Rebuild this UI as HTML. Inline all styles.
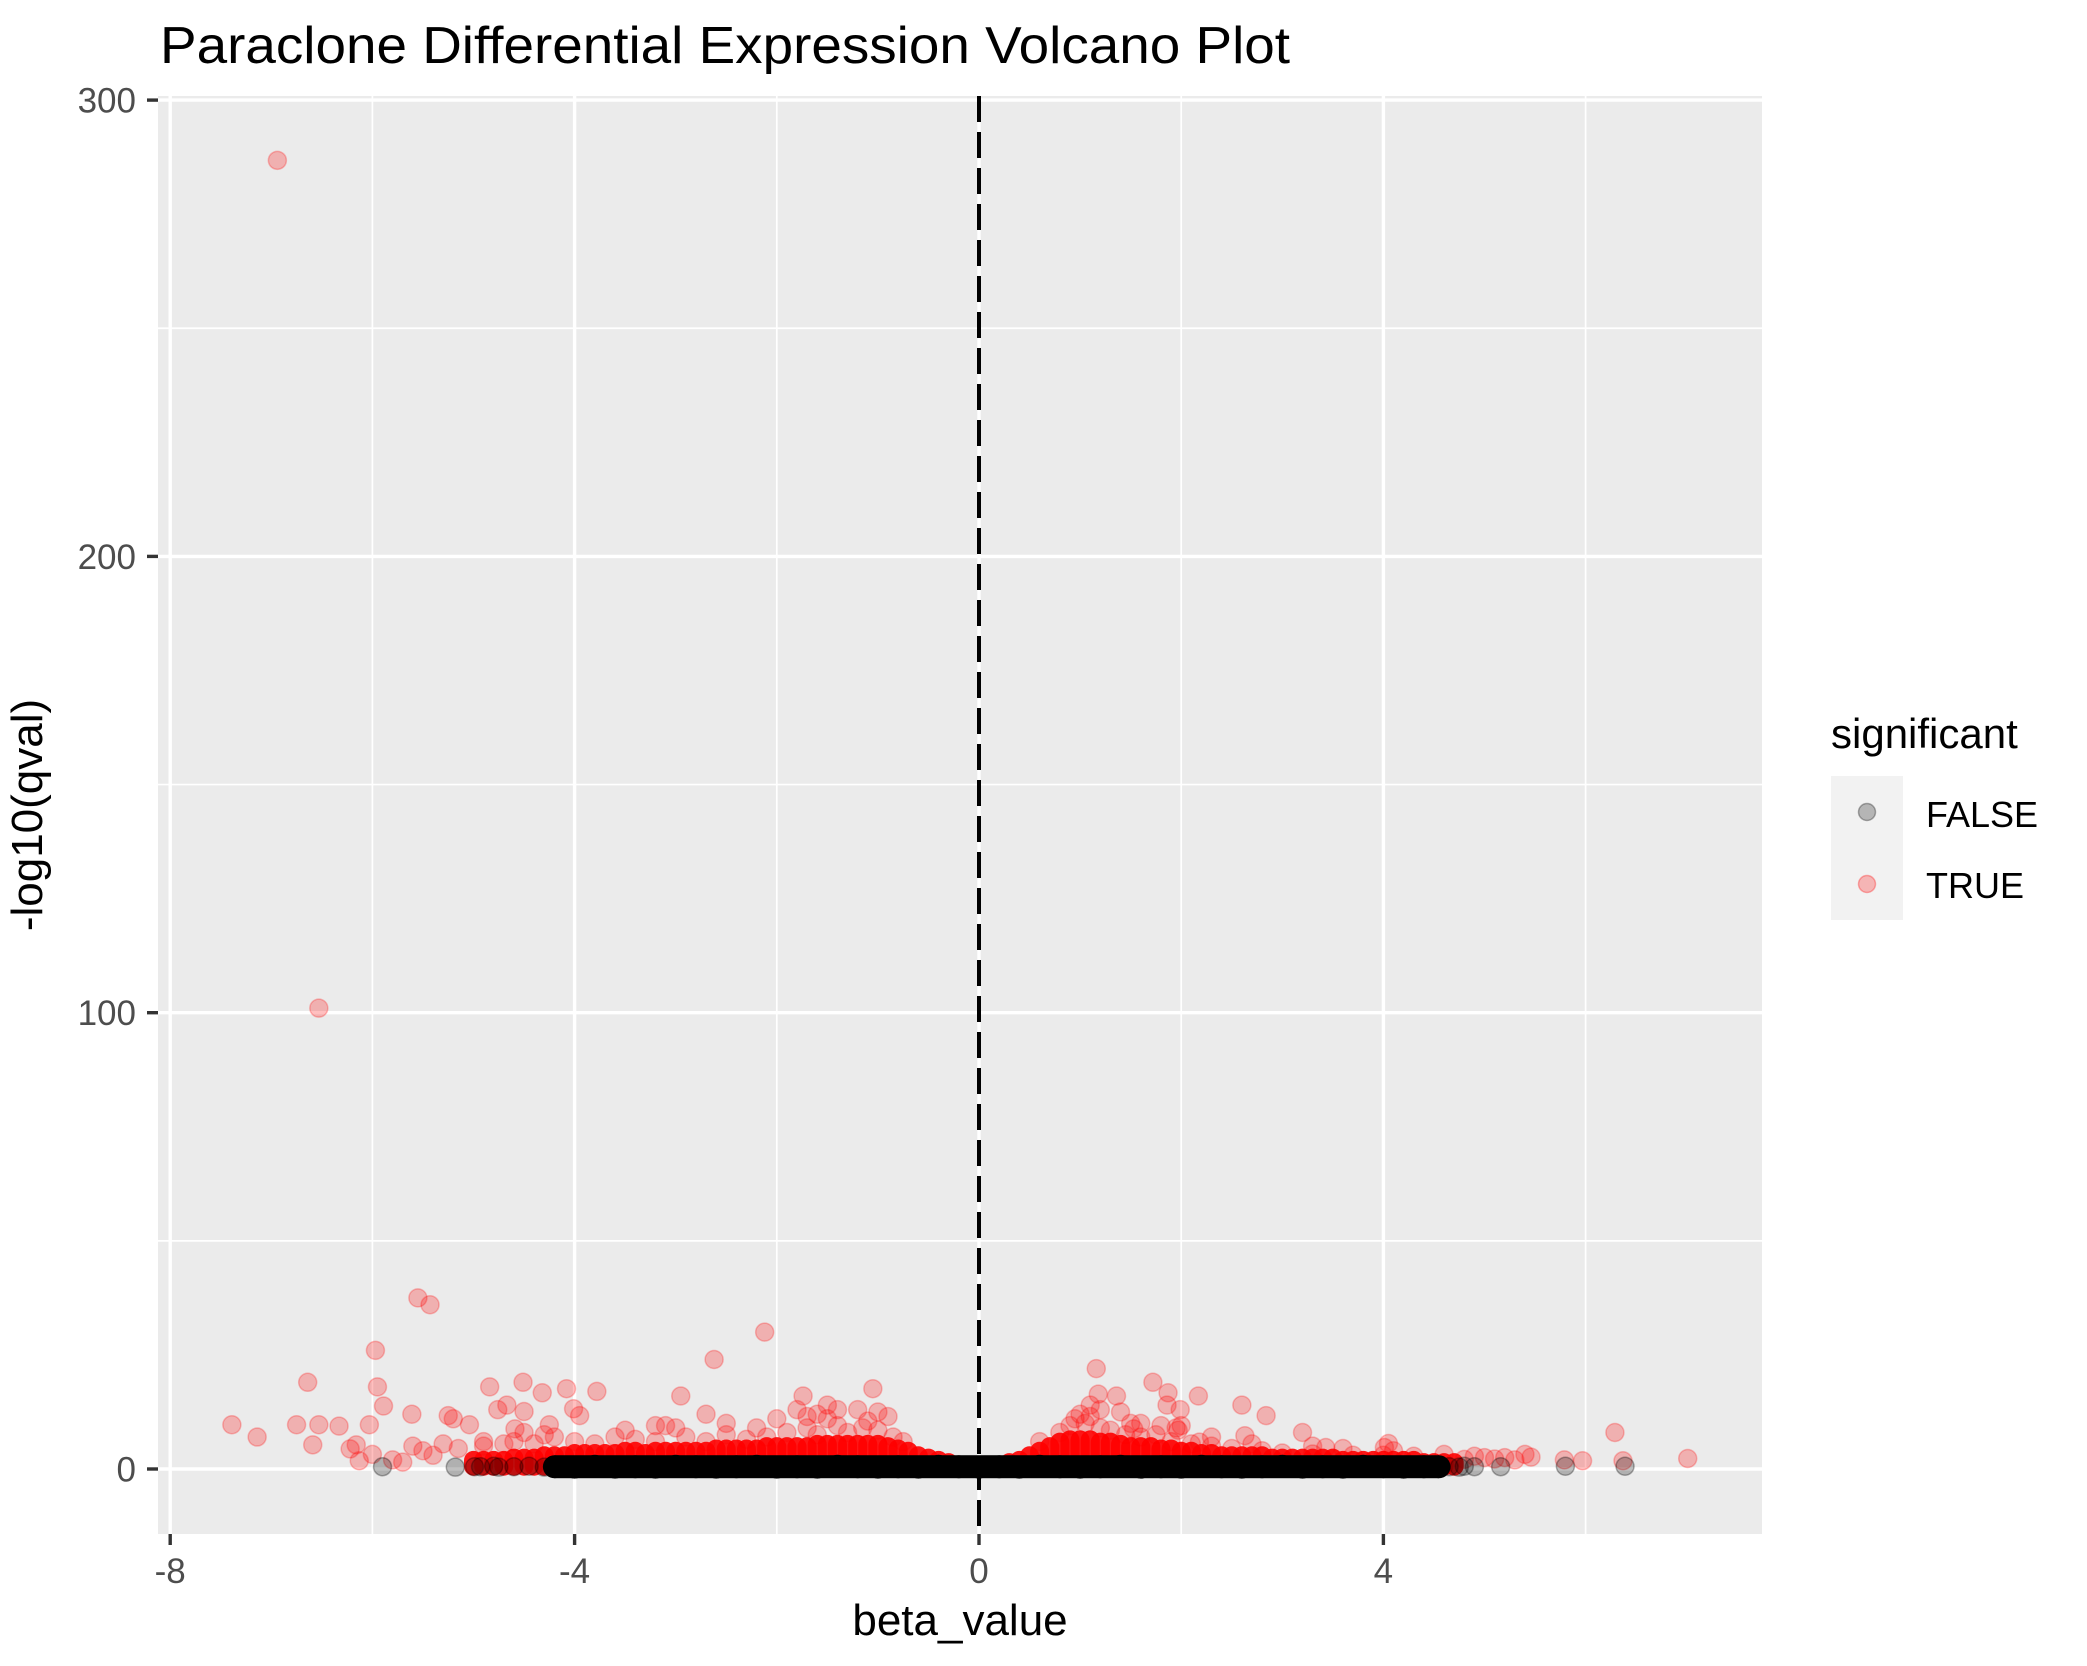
<!DOCTYPE html>
<html><head><meta charset="utf-8"><style>
html,body{margin:0;padding:0;background:#fff}
svg{display:block;font-family:"Liberation Sans",Arial,sans-serif}
</style></head><body>
<svg id="chart" width="2087" height="1666" viewBox="0 0 2087 1666">
<rect x="0" y="0" width="2087" height="1666" fill="#fff"/>
<text x="160" y="63" font-size="52" fill="#000" textLength="1130" lengthAdjust="spacingAndGlyphs">Paraclone Differential Expression Volcano Plot</text>
<rect x="158" y="96" width="1604" height="1438" fill="#ebebeb"/>
<g id="grid"></g>
<g id="redDense"></g>
<g id="points"></g>
<g id="blackDense"></g>
<g id="blackPts"></g>
<line id="vline" stroke="#000" stroke-width="4" stroke-dasharray="26 10"/>
<g id="axes"></g>
<text x="960" y="1635" font-size="44" text-anchor="middle" fill="#000">beta_value</text>
<text transform="translate(42,815) rotate(-90)" font-size="44" text-anchor="middle" fill="#000">-log10(qval)</text>
<g>
<text x="1831" y="748" font-size="42" fill="#000">significant</text>
<rect x="1831" y="776" width="72" height="72" fill="#f2f2f2"/>
<rect x="1831" y="848" width="72" height="72" fill="#f2f2f2"/>
<circle cx="1867" cy="812" r="8.5" fill="rgba(0,0,0,0.25)" stroke="rgba(0,0,0,0.3)" stroke-width="1.5"/>
<circle cx="1867" cy="884" r="8.5" fill="rgba(255,0,0,0.25)" stroke="rgba(255,0,0,0.3)" stroke-width="1.5"/>
<text x="1926" y="827" font-size="36" fill="#000">FALSE</text>
<text x="1926" y="898" font-size="36" fill="#000">TRUE</text>
</g>
</svg>
<script>
const xMajorTicks = [-8, -4, 0, 4];
const xMinorTicks = [-6, -2, 2, 6];
const xTickLabels = ["-8", "-4", "0", "4"];
const yMajorTicks = [0, 100, 200, 300];
const yMinorTicks = [50, 150, 250];
const yTickLabels = ["0", "100", "200", "300"];
const vlineX = 0;

// significant (TRUE) scattered points
const redX = [-6.94,-6.53,-5.55,-5.43,-2.12,-5.97,-2.62,1.16,1.72,-6.64,-4.84,-4.51,-4.08,-3.78,-5.95,-1.05,-1.74,-2.95,1.87,2.17,1.36,1.18,-5.89,2.6,1.99,1.86,2.84,2.63,-7.39,-7.14,-6.75,-6.53,-6.33,-6.59,-6.22,-6.16,-6.03,-6.13,-6.0,-5.61,-5.25,-5.2,-5.04,-4.76,-4.67,-4.5,-4.32,-4.01,-3.95,-4.59,-4.25,6.29,7.01,6.37,5.79,5.97,5.46,5.4,4.01,4.05,3.2,3.43,1.53,1.97,2.18,-5.6,-5.5,-5.4,-5.3,-5.15,-5.8,-5.7,-4.9,-4.7,-4.3,-3.5,-3.0,-2.5,-2.0,-1.8,-1.5,-1.4,-1.0,-0.9,1.0,1.2,1.5,1.8,2.3,2.7,3.3,3.6,4.1,4.6,4.9,5.0,5.1,5.2,5.3,4.8,-2.7,-1.6,-1.2,-3.2,1.1,1.4,2.0,
-4.9,-4.6,-4.4,-4.2,-4.0,-3.8,-3.6,-3.4,-3.2,-2.9,-2.7,-2.5,-2.3,-2.1,-1.9,-1.7,-1.6,-1.4,-1.3,-1.15,-1.0,-0.85,-0.75,-2.2,-3.1,-4.5,-1.5,-1.7,-1.1,
0.6,0.8,0.9,1.05,1.2,1.3,1.45,1.6,1.75,1.9,2.1,2.3,2.5,2.8,3.0,3.3,3.7,4.0,4.3,1.1,0.95,1.6,1.95];
const redY = [286.8,101,37.5,36,30,26,24,22,19,19,18,19,17.6,17,18,17.6,16,16,16.7,16,16,16.4,13.8,14,13,14,11.7,7.3,9.7,7,9.7,9.7,9.4,5.3,4.4,5.3,9.7,1.8,3.2,12,11.7,11,9.7,13,14,12.6,16.7,13.2,11.7,8.8,9.7,8,2.3,1.8,2,1.8,2.6,3.2,4.7,5.6,8,4.7,8.8,8.5,5.9,5,4,3,5.5,4.5,2,1.5,6,5.5,7.5,8.5,9,10,11,13,14,13,12.5,11.5,12,13,10,9.5,7,5.5,5,4.5,4,3.2,2.8,2.5,2.2,2.5,2,2.1,12,12,13,9.5,14,12.5,9.5,
5,6,5.5,7,6,5.5,7,6.5,6,7,6,7.5,6.5,7,8,9,7.5,9.5,8,9,8.5,7,6,9,9.5,8,11,11.5,10.5,
6,8,9.5,10,9,8.5,7.5,7,7.5,6,5.5,5,4.5,4,3.5,3.3,3,3,2.8,11.5,11,10,9];

// non-significant (FALSE) scattered points
const blackX = [-5.9,-5.18,-4.99,-4.93,-4.8,-4.75,-4.6,-4.45,-4.3,4.65,4.75,4.8,4.9,5.16,5.8,6.39];
const blackY = [0.5,0.4,0.5,0.5,0.6,0.4,0.5,0.6,0.4,0.5,0.4,0.6,0.5,0.5,0.6,0.6];

// dense significant cloud: column x and upper y of the solid mass
const redDenseX = [-5.0,-4.9,-4.8,-4.7,-4.6,-4.5,-4.4,-4.3,-4.2,-4.1,-4.0,-3.9,-3.8,-3.7,-3.6,-3.5,-3.4,-3.3,-3.2,-3.1,-3.0,-2.9,-2.8,-2.7,-2.6,-2.5,-2.4,-2.3,-2.2,-2.1,-2.0,-1.9,-1.8,-1.7,-1.6,-1.5,-1.4,-1.3,-1.2,-1.1,-1.0,-0.9,-0.8,-0.7,-0.6,-0.5,-0.4,-0.3,
0.3,0.4,0.5,0.6,0.7,0.8,0.9,1.0,1.1,1.2,1.3,1.4,1.5,1.6,1.7,1.8,1.9,2.0,2.1,2.2,2.3,2.4,2.5,2.6,2.7,2.8,2.9,3.0,3.1,3.2,3.3,3.4,3.5,3.6,3.7,3.8,3.9,4.0,4.1,4.2,4.3,4.4,4.5,4.6,4.7];
const redDenseTop = [2,2,2,2,2.5,2.5,2.5,3,3,3,3.5,3.5,3.5,3.5,3.5,4,4,3.5,4,4,4,4,4,4,4.5,4.5,4.5,4.5,4.5,5,5,5,5,5,5.5,5.5,5.5,5.5,5.5,5.5,5.5,5,4.5,4,3,2.5,2,1.5,
1.5,2,3,4,5,6,6.5,6.5,6.5,6,6,5.5,5,5,5,4.5,4.5,4,4,3.5,3.5,3,3,3,3,3,2.5,2.5,2.5,2.5,2.5,2.5,2.5,2,2,2,2,2,2,2,2,1.5,1.5,1.5,1.5];

// dense non-significant band
const blackDenseX = [-4.2,-4.0,-3.8,-3.6,-3.4,-3.2,-3.0,-2.8,-2.6,-2.4,-2.2,-2.0,-1.8,-1.6,-1.4,-1.2,-1.0,-0.8,-0.6,-0.4,-0.2,0,0.2,0.4,0.6,0.8,1.0,1.2,1.4,1.6,1.8,2.0,2.2,2.4,2.6,2.8,3.0,3.2,3.4,3.6,3.8,4.0,4.2,4.4,4.55];
const blackDenseY = [0.5,0.4,0.6,0.4,0.5,0.4,0.6,0.5,0.4,0.5,0.6,0.4,0.5,0.4,0.6,0.5,0.4,0.5,0.4,0.6,0.5,0.4,0.5,0.4,0.6,0.5,0.4,0.5,0.6,0.4,0.5,0.4,0.6,0.5,0.4,0.5,0.6,0.4,0.5,0.4,0.6,0.5,0.4,0.5,0.5];

const NS = "http://www.w3.org/2000/svg";
const PL = 158, PR = 1762, PT = 96, PB = 1534;
function xScale(v){ return 979 + 101.1 * v; }
function yScale(v){ return 1469 - 4.563 * v; }
function mk(tag, attrs, parent){
  const e = document.createElementNS(NS, tag);
  for (const k in attrs) e.setAttribute(k, attrs[k]);
  parent.appendChild(e);
  return e;
}
const grid = document.getElementById('grid');
xMinorTicks.forEach(v => {
  const l = mk('line', {x1:xScale(v), x2:xScale(v), y1:PT, y2:PB, stroke:'#fff', 'stroke-width':1.7}, grid);
  
  
});
yMinorTicks.forEach(v => {
  const l = mk('line', {x1:PL, x2:PR, y1:yScale(v), y2:yScale(v), stroke:'#fff', 'stroke-width':1.7}, grid);
  
  
});
xMajorTicks.forEach(v => {
  const l = mk('line', {x1:xScale(v), x2:xScale(v), y1:PT, y2:PB, stroke:'#fff', 'stroke-width':3.4}, grid);
  
  
});
yMajorTicks.forEach(v => {
  const l = mk('line', {x1:PL, x2:PR, y1:yScale(v), y2:yScale(v), stroke:'#fff', 'stroke-width':3.4}, grid);
  
  
});

const rd = document.getElementById('redDense');
redDenseX.forEach((x, i) => {
  const top = yScale(redDenseTop[i]) - 9;
  const bot = yScale(0.5) + 9;
  const r = mk('rect', {x:xScale(x)-9.5, y:top, width:19, height:bot-top, rx:9.5, fill:'#ff0000', 'fill-opacity':0.9}, rd);
  
  
});

const pts = document.getElementById('points');
redX.forEach((x, i) => {
  const c = mk('circle', {cx:xScale(x), cy:yScale(redY[i]), r:9, fill:'rgba(255,0,0,0.25)', stroke:'rgba(255,0,0,0.25)', 'stroke-width':1.5}, pts);
  
  
});
const bd = document.getElementById('blackDense');
blackDenseX.forEach((x, i) => {
  const c = mk('circle', {cx:xScale(x), cy:yScale(blackDenseY[i]), r:11.5, fill:'#000'}, bd);
  
  
});
const bandL = xScale(blackDenseX[0]), bandR = xScale(blackDenseX[blackDenseX.length-1]);
const band = mk('rect', {x:bandL, y:yScale(0.5)-11.5, width:bandR-bandL, height:23, fill:'#000'}, bd);


const bp = document.getElementById('blackPts');
blackX.forEach((x, i) => {
  const c = mk('circle', {cx:xScale(x), cy:yScale(blackY[i]), r:9, fill:'rgba(0,0,0,0.25)', stroke:'rgba(0,0,0,0.3)', 'stroke-width':1.5}, bp);
  
  
});

const vl = document.getElementById('vline');
vl.setAttribute('x1', xScale(vlineX)); vl.setAttribute('x2', xScale(vlineX));
vl.setAttribute('y1', PT); vl.setAttribute('y2', PB);

const axes = document.getElementById('axes');
xMajorTicks.forEach((v, i) => {
  const t = mk('line', {x1:xScale(v), x2:xScale(v), y1:PB, y2:PB+11, stroke:'#333', 'stroke-width':3.4}, axes);
  
  
  const l = mk('text', {x:xScale(v), y:PB+49, 'font-size':35, 'text-anchor':'middle', fill:'#4d4d4d'}, axes);
  l.textContent = xTickLabels[i];
  
  
});
yMajorTicks.forEach((v, i) => {
  const t = mk('line', {x1:PL-11, x2:PL, y1:yScale(v), y2:yScale(v), stroke:'#333', 'stroke-width':3.4}, axes);
  
  
  const l = mk('text', {x:136, y:yScale(v)+12.5, 'font-size':35, 'text-anchor':'end', fill:'#4d4d4d'}, axes);
  l.textContent = yTickLabels[i];
  
  
});
</script>
</body></html>
